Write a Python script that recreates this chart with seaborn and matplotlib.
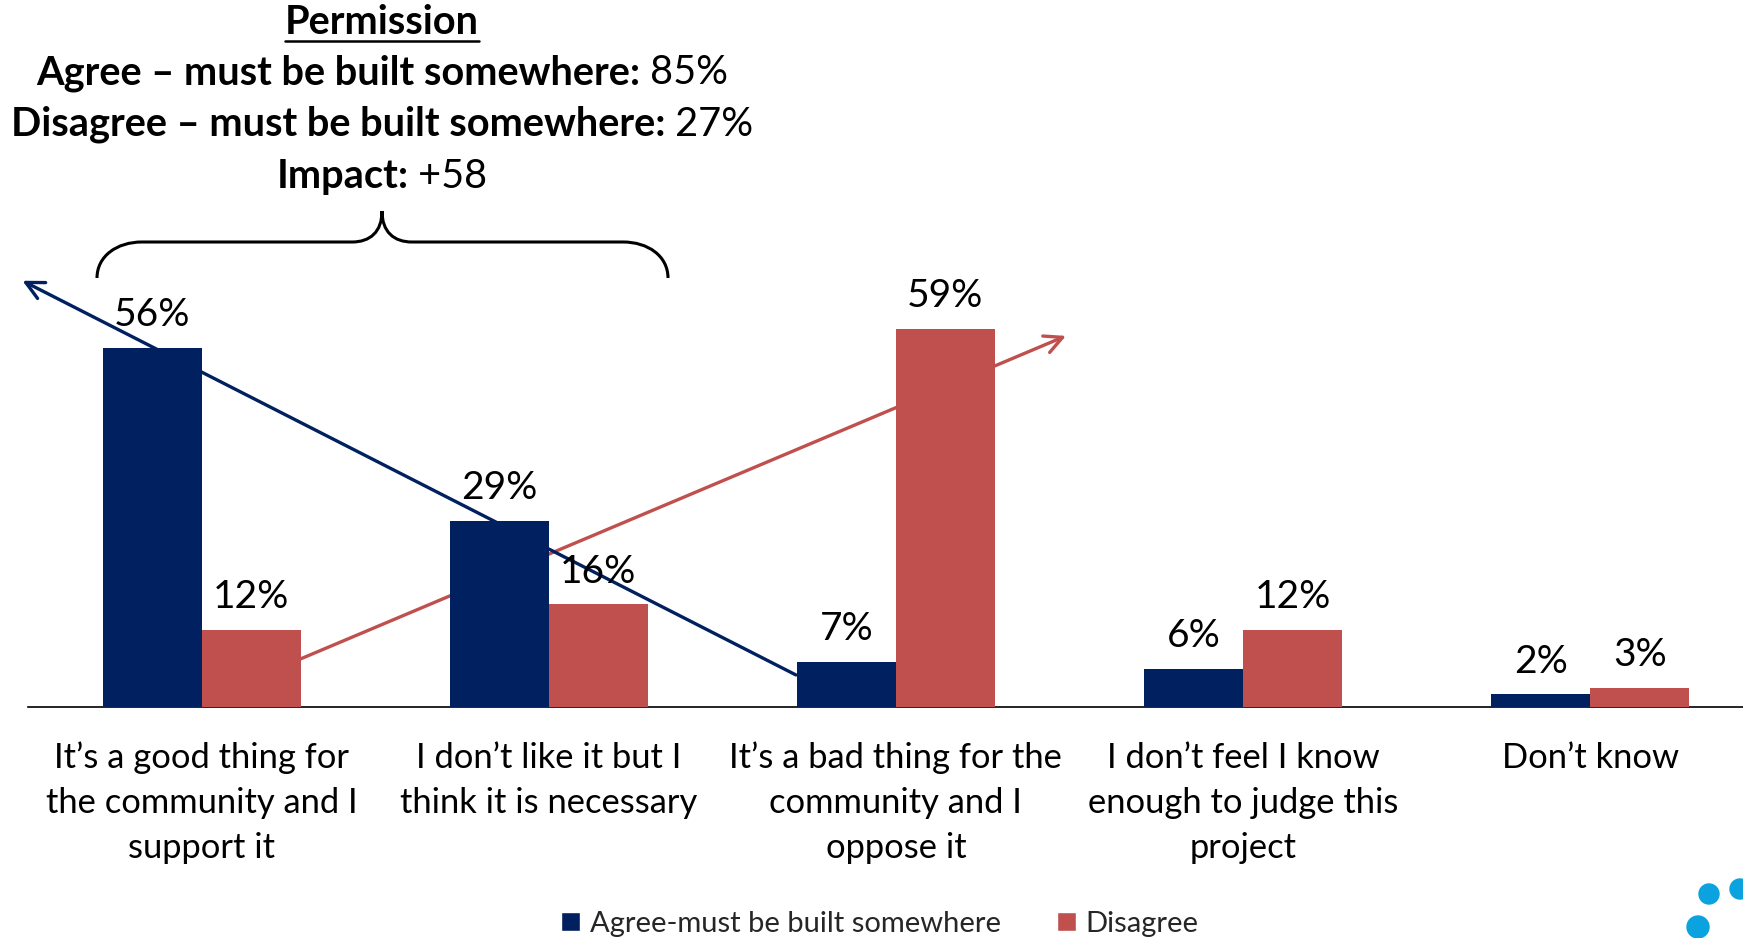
import matplotlib
matplotlib.use("Agg")
import matplotlib.pyplot as plt
import seaborn as sns
import pandas as pd
from matplotlib.patches import PathPatch, Ellipse, Patch
from matplotlib.path import Path

# ---------------- data ----------------
categories = [
    "It’s a good thing for\nthe community and I\nsupport it",
    "I don’t like it but I\nthink it is necessary",
    "It’s a bad thing for the\ncommunity and I\noppose it",
    "I don’t feel I know\nenough to judge this\nproject",
    "Don’t know",
]
series_names = ["Agree-must be built somewhere", "Disagree"]
agree_values = [56, 29, 7, 6, 2]
disagree_values = [12, 16, 59, 12, 3]
header_title = "Permission"
header_lines = [
    ("Agree – must be built somewhere:", " 85%"),
    ("Disagree – must be built somewhere:", " 27%"),
    ("Impact:", " +58"),
]

NAVY = "#002060"
RED = "#C0504D"
DOT = "#0AA2DF"

sns.set_theme(style="white")
plt.rcParams["font.family"] = ["Lato", "DejaVu Sans"]

W, H = 1743, 938
fig = plt.figure(figsize=(W / 100, H / 100), dpi=100)
fig.patch.set_facecolor("white")

def fx(px):
    return px / W

def fy(py):
    return 1 - py / H

df = pd.DataFrame({
    "category": categories * 2,
    "series": [series_names[0]] * len(categories) + [series_names[1]] * len(categories),
    "value": agree_values + disagree_values,
})

base_px = 707
ax = fig.add_axes([fx(28), fy(base_px), 1 - fx(28), base_px / H])
ax.set_facecolor("white")
sns.barplot(data=df, x="category", y="value", hue="series",
            palette=[NAVY, RED], width=0.57, saturation=1, linewidth=0,
            ax=ax, zorder=3)
ax.set_xlim(-0.5, 4.44)
ax.set_ylim(0, 110.3)
ax.set_xlabel("")
ax.set_ylabel("")
ax.set_yticks([])
for s in ["left", "right", "top"]:
    ax.spines[s].set_visible(False)
ax.spines["bottom"].set_color("black")
ax.spines["bottom"].set_linewidth(1.2)
ax.tick_params(axis="x", length=0, pad=25, labelsize=24.8)
for lbl in ax.get_xticklabels():
    lbl.set_linespacing(1.5)
    lbl.set_color("black")

# value labels
for cont in ax.containers:
    for bar in cont:
        h = bar.get_height()
        ax.annotate(f"{h:.0f}%", (bar.get_x() + bar.get_width() / 2, h),
                    xytext=(0, 23.5), textcoords="offset points",
                    ha="center", va="center", fontsize=28, color="black",
                    zorder=5)

# trend arrows (behind the bars)
ax.annotate("", xy=(-0.516, 66.5), xytext=(1.712, 5.0),
            arrowprops=dict(arrowstyle="->", color=NAVY, lw=2.4,
                            mutation_scale=32, shrinkA=0, shrinkB=0),
            annotation_clip=False, zorder=2.5)
ax.annotate("", xy=(2.49, 57.9), xytext=(0.285, 7.5),
            arrowprops=dict(arrowstyle="->", color=RED, lw=2.4,
                            mutation_scale=32, shrinkA=0, shrinkB=0),
            annotation_clip=False, zorder=2)

# legend
ax.get_legend().remove()
handles = [Patch(facecolor=NAVY), Patch(facecolor=RED)]
fig.legend(handles, series_names, loc="center", bbox_to_anchor=(fx(880), fy(924)),
           ncol=2, frameon=False, fontsize=21.0, handlelength=0.65, handleheight=0.65,
           handletextpad=0.35, columnspacing=1.9, borderaxespad=0)

# header text
renderer = fig.canvas.get_renderer()
cx = 382
HFS = 28.6
t = fig.text(fx(cx), fy(22), header_title, ha="center", va="center",
             fontsize=HFS, fontweight="bold", color="black")
bb = t.get_window_extent(renderer)
fig.add_artist(plt.Line2D([bb.x0 / W, bb.x1 / W], [(bb.y0 - 1) / H, (bb.y0 - 1) / H],
                          color="black", lw=1.8, transform=fig.transFigure))
for (bold, normal), ypx in zip(header_lines, [73, 124, 176]):
    tb = fig.text(0, fy(ypx), bold, ha="left", va="center", fontsize=HFS,
                  fontweight="bold", color="black")
    tn = fig.text(0, fy(ypx), normal, ha="left", va="center", fontsize=HFS,
                  color="black")
    wb = tb.get_window_extent(renderer).width
    wn = tn.get_window_extent(renderer).width
    x0 = cx - (wb + wn) / 2
    tb.set_x(fx(x0))
    tn.set_x(fx(x0 + wb))

# curly brace
pts = [(97, 278), (97, 256), (117, 242), (142, 242), (352, 242),
       (370, 242), (382, 232), (382, 211),
       (382, 232), (394, 242), (412, 242), (623, 242),
       (648, 242), (668, 256), (668, 278)]
codes = [Path.MOVETO, Path.CURVE4, Path.CURVE4, Path.CURVE4, Path.LINETO,
         Path.CURVE4, Path.CURVE4, Path.CURVE4,
         Path.CURVE4, Path.CURVE4, Path.CURVE4, Path.LINETO,
         Path.CURVE4, Path.CURVE4, Path.CURVE4]
path = Path([(fx(x), fy(y)) for x, y in pts], codes)
fig.add_artist(PathPatch(path, facecolor="none", edgecolor="black", lw=2.2,
                         transform=fig.transFigure))

# decorative dots bottom right
for (x, y, r) in [(1709, 894, 10), (1740, 889, 10), (1698, 927, 11)]:
    fig.add_artist(Ellipse((fx(x), fy(y)), 2 * r / W, 2 * r / H, color=DOT,
                           transform=fig.transFigure))

fig.savefig("out.png", dpi=100)
